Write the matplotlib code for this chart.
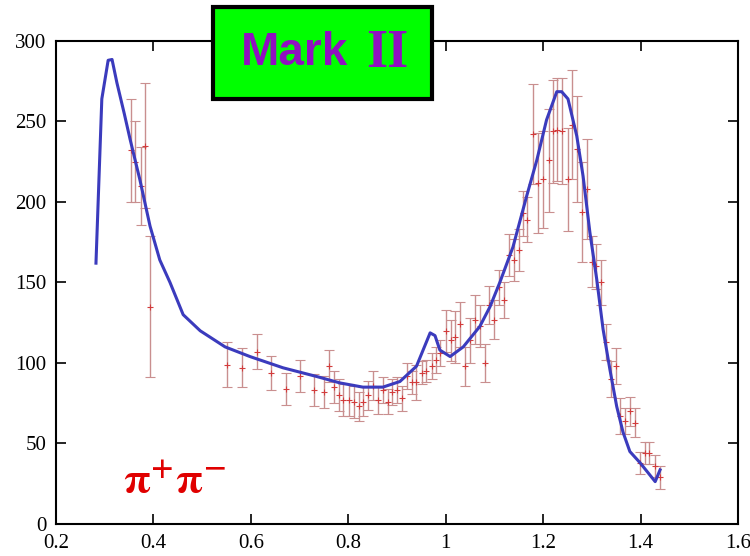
import matplotlib
matplotlib.use('Agg')
import matplotlib.pyplot as plt
from matplotlib.patches import Rectangle

# fit curve (blue line)
fit_x = [0.282, 0.294, 0.307, 0.315, 0.325, 0.340, 0.352, 0.372, 0.393, 0.413, 0.434, 0.461,
         0.496, 0.547, 0.598, 0.666, 0.735, 0.783, 0.830, 0.871, 0.906, 0.940, 0.968,
         0.978, 0.988, 1.009, 1.036, 1.070, 1.091, 1.111, 1.138, 1.166, 1.187, 1.207,
         1.228, 1.238, 1.251, 1.269, 1.282, 1.296, 1.310, 1.323, 1.337, 1.351, 1.364,
         1.378, 1.399, 1.430, 1.440]
fit_y = [162, 264, 288, 288.5, 274, 255, 239, 214, 185, 164, 150, 130,
         120, 110, 104, 97, 91.6, 87.6, 85, 85, 88.5, 98, 118.7,
         117, 108, 104, 110, 122.7, 135, 150, 172, 203.5, 226, 251,
         268.5, 268.5, 264, 241, 216, 181, 152, 121, 96, 73, 57,
         45, 38, 26.3, 33.6]

# Mark II data points
data_x = [0.353, 0.362, 0.374, 0.383, 0.393,
          0.552, 0.581, 0.612, 0.641, 0.672, 0.701, 0.730, 0.750, 0.761, 0.771, 0.780,
          0.789, 0.802, 0.812, 0.821, 0.830, 0.841, 0.850, 0.860, 0.871, 0.881, 0.889,
          0.899, 0.910, 0.921, 0.930, 0.940, 0.951, 0.960, 0.971, 0.980, 0.988,
          1.001, 1.010, 1.019, 1.029, 1.040, 1.050, 1.060, 1.070, 1.081, 1.089, 1.099,
          1.110, 1.120, 1.129, 1.140, 1.150, 1.158, 1.167, 1.180, 1.190, 1.200, 1.211,
          1.220, 1.229, 1.239, 1.250, 1.259, 1.269, 1.279, 1.289, 1.300, 1.309, 1.318,
          1.329, 1.339, 1.350, 1.358, 1.369, 1.378, 1.389, 1.399, 1.409, 1.418, 1.430,
          1.439]
data_y = [232, 225, 210, 235, 135,
          99, 97, 107, 94, 84, 92, 83, 82, 98, 85, 80,
          77, 77, 76, 73, 76, 80, 86, 77, 83, 76, 82,
          83, 78, 92, 88, 88, 94, 95, 98, 102, 106,
          120, 114, 116, 124, 98, 114, 127, 123, 100, 136, 127,
          147, 139, 167, 164, 170, 193, 189, 242, 212, 214, 226,
          244, 245, 244, 214, 248, 233, 194, 208, 163, 160, 150,
          113, 90, 98, 67, 64, 70, 63, 38, 44, 44, 36,
          29]
data_err = [32, 25, 24, 39, 44,
            14, 12, 11, 10.5, 10, 10, 10, 10, 10, 10, 10,
            10, 10, 10, 9, 9, 9, 9, 9, 8, 8, 8,
            8, 8, 8, 7, 11, 7, 7, 8, 8, 8,
            13, 13, 16, 14, 12, 14, 15, 13, 12, 12, 12,
            11, 11, 13, 13, 13, 14, 14, 31, 31, 30, 32,
            32, 32, 33, 32, 34, 33, 31, 31, 16, 14, 14,
            11, 11, 11, 11, 8, 9, 9, 7, 7, 7, 7,
            7]

x_ticks = [0.2, 0.4, 0.6, 0.8, 1.0, 1.2, 1.4, 1.6]
x_tick_labels = ['0.2', '0.4', '0.6', '0.8', '1', '1.2', '1.4', '1.6']
y_ticks = [0, 50, 100, 150, 200, 250, 300]

plt.rcParams['mathtext.fontset'] = 'stix'

fig = plt.figure(figsize=(7.5, 5.56), dpi=100)
ax = fig.add_axes([0.0747, 0.0576, 0.9093, 0.8687])

# error bars
ax.errorbar(data_x, data_y, yerr=data_err, fmt='+', color='#d23c3c', markersize=5,
            markeredgewidth=0.8, ecolor='#c98f8f', elinewidth=1.0, capsize=3.5,
            capthick=1.0, zorder=2)

# fit line
ax.plot(fit_x, fit_y, color='#3b3bbd', linewidth=2.2, zorder=3)

ax.set_xlim(0.2, 1.6)
ax.set_ylim(0, 300)
ax.set_xticks(x_ticks)
ax.set_xticklabels(x_tick_labels)
ax.set_yticks(y_ticks)
for lab in ax.get_xticklabels() + ax.get_yticklabels():
    lab.set_fontfamily('Liberation Serif')
    lab.set_fontsize(15)
ax.tick_params(direction='in', length=7, width=1.2, top=True, right=True)
ax.tick_params(axis='x', pad=7)
ax.tick_params(axis='y', pad=7)
for s in ax.spines.values():
    s.set_linewidth(1.5)

# pi+ pi- label
ax.text(0.338, 20, r'$\mathbf{\pi^{+}\pi^{\mathbf{-}}}$', color='#e00000', fontsize=31,
        transform=ax.transData)

# Mark II title box
fig.patches.append(Rectangle((0.284, 0.822), 0.292, 0.165, transform=fig.transFigure,
                             facecolor='#00ff00', edgecolor='black', linewidth=3,
                             zorder=5))
fig.text(0.393, 0.904, 'Mark', family='Liberation Sans', weight='bold', fontsize=33,
         color='#9010c0', ha='center', va='center', zorder=6)
fig.text(0.517, 0.902, 'II', family='Liberation Serif', weight='bold', fontsize=39,
         color='#9010c0', ha='center', va='center', zorder=6)

fig.savefig('out.png', dpi=100)
